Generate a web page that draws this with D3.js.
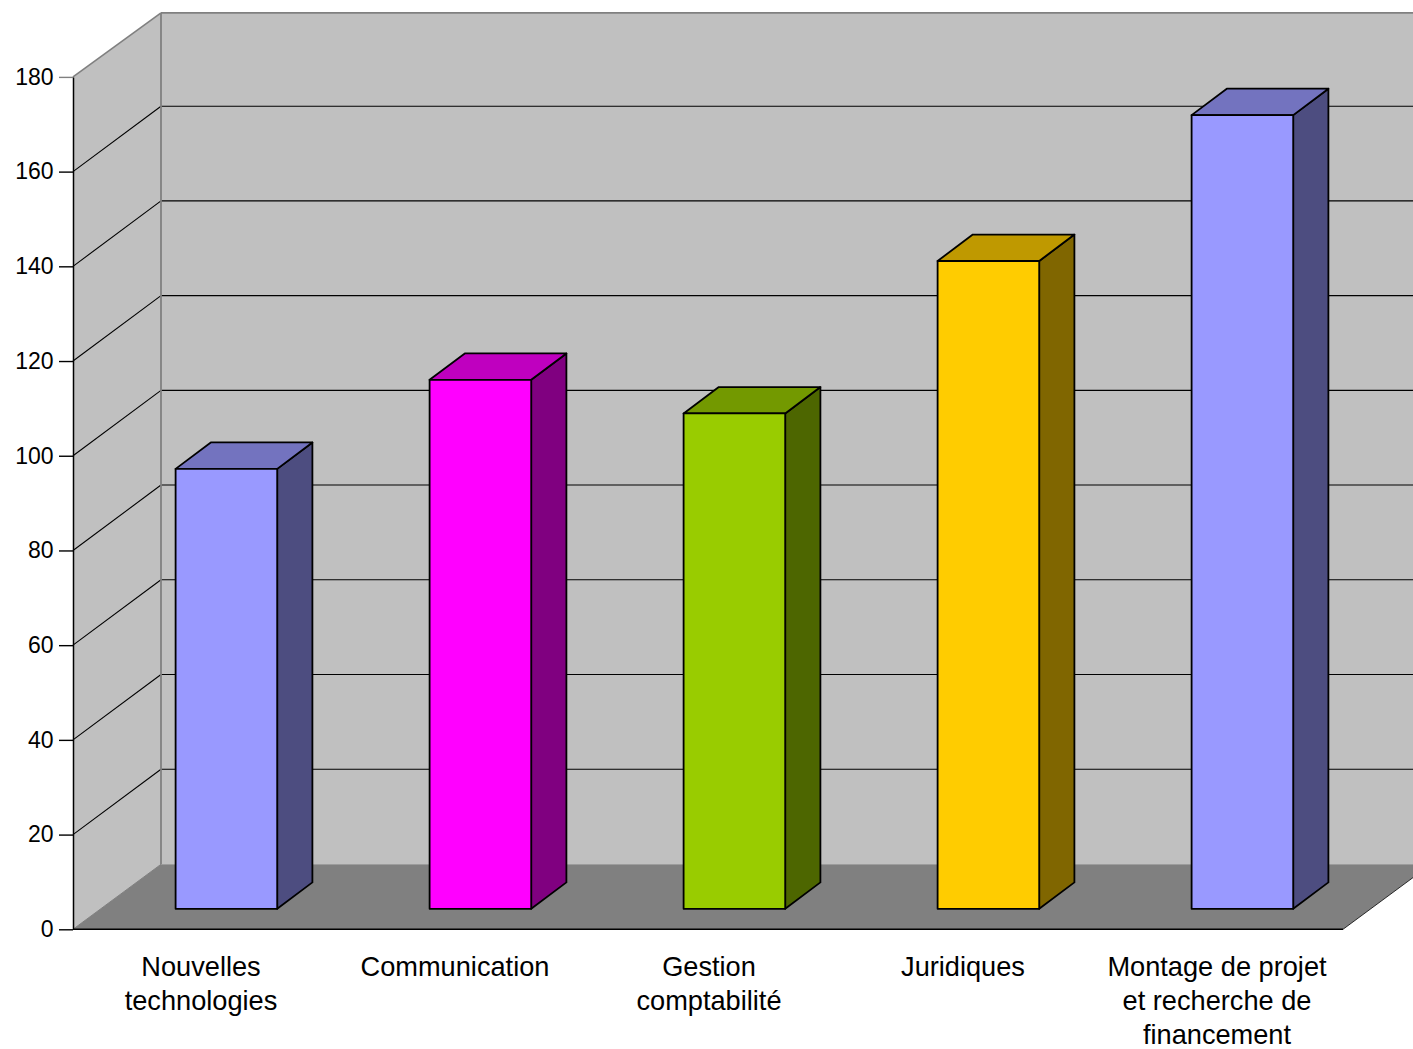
<!DOCTYPE html>
<html>
<head>
<meta charset="utf-8">
<script src="https://cdn.jsdelivr.net/npm/d3@7"></script>
<style>
  html, body { margin: 0; padding: 0; background: #fff; overflow: hidden; }
  text { font-family: "Liberation Sans", Arial, sans-serif; fill: #000; }
</style>
</head>
<body>
<div id="chart"></div>
<script>
const categories = [
  ["Nouvelles", "technologies"],
  ["Communication"],
  ["Gestion", "comptabilité"],
  ["Juridiques"],
  ["Montage de projet", "et recherche de", "financement"]
];
const values = [92.9, 111.7, 104.6, 136.8, 167.6];
const faceColors = ["#9999ff", "#ff00ff", "#99cc00", "#ffcc00", "#9999ff"];
const yTicks = [0, 20, 40, 60, 80, 100, 120, 140, 160, 180];

const width = 1413, height = 1049;
const depthX = 88, depthY = 65;   // full depth of the chart box
const topDepthY = 64;

const svg = d3.select("#chart").append("svg")
  .attr("width", width)
  .attr("height", height)
  .style("display", "block");

const x = d3.scaleBand().domain(d3.range(categories.length)).range([73, 1343]);
const y = d3.scaleLinear().domain([0, 180]).range([929.3, 76.9]);

const poly = (pts) => "M" + pts.map((p) => p.join(",")).join("L") + "Z";

// walls and floor
const x0 = x.range()[0], x1 = x.range()[1];
const yBottom = y(0), yTop = y(180);
svg.append("path")
  .attr("d", poly([[x0 + depthX, yBottom - depthY], [x1 + depthX, yBottom - depthY], [x1 + depthX, yTop - topDepthY], [x0 + depthX, yTop - topDepthY]]))
  .attr("fill", "#c0c0c0");
svg.append("path")
  .attr("d", poly([[x0, yBottom], [x0 + depthX, yBottom - depthY], [x0 + depthX, yTop - topDepthY], [x0, yTop]]))
  .attr("fill", "#c0c0c0");
svg.append("path")
  .attr("d", poly([[x0, yBottom], [x1, yBottom], [x1 + depthX, yBottom - depthY], [x0 + depthX, yBottom - depthY]]))
  .attr("fill", "#808080");

// gridlines
const grid = svg.append("g");
yTicks.filter((t) => t > 0).forEach((t) => {
  const last = t === 180;
  const dy = last ? topDepthY : depthY + 0.4;
  const color = last ? "#808080" : "#000";
  const sw = last ? 1.6 : 1.1;
  grid.append("line")
    .attr("x1", x0).attr("y1", y(t))
    .attr("x2", x0 + depthX).attr("y2", y(t) - dy)
    .attr("stroke", color).attr("stroke-width", sw);
  grid.append("line")
    .attr("x1", x0 + depthX).attr("y1", y(t) - dy)
    .attr("x2", x1 + depthX).attr("y2", y(t) - dy)
    .attr("stroke", color).attr("stroke-width", sw);
});
svg.append("line")
  .attr("x1", x0 + depthX).attr("y1", yTop - topDepthY)
  .attr("x2", x0 + depthX).attr("y2", yBottom - depthY)
  .attr("stroke", "#808080").attr("stroke-width", 1.8);
svg.append("line")
  .attr("x1", x0).attr("y1", yBottom)
  .attr("x2", x0 + depthX).attr("y2", yBottom - depthY)
  .attr("stroke", "#808080").attr("stroke-width", 1);

// axes
const yAxis = svg.append("g")
  .attr("transform", `translate(${x0},0)`)
  .call(d3.axisLeft(y).tickValues(yTicks).tickSize(14).tickPadding(5.5).tickSizeOuter(0));
yAxis.select(".domain").attr("stroke", "#000").attr("stroke-width", 1.5);
yAxis.selectAll(".tick line").attr("stroke", (d) => (d === 180 ? "#808080" : "#000")).attr("stroke-width", 1.4);
yAxis.selectAll(".tick text").attr("font-size", 23);
yAxis.attr("font-family", null);

svg.append("line")
  .attr("x1", x0).attr("y1", yBottom)
  .attr("x2", x1).attr("y2", yBottom)
  .attr("stroke", "#000").attr("stroke-width", 1.5);
svg.append("line")
  .attr("x1", x1).attr("y1", yBottom)
  .attr("x2", x1 + depthX).attr("y2", yBottom - depthY)
  .attr("stroke", "#000").attr("stroke-width", 0.8);

// bars
const dim = (color, k) => {
  const c = d3.rgb(color);
  return d3.rgb(c.r * k, c.g * k, c.b * k).formatHex();
};
const barWidth = x.bandwidth() * 0.4;
const offX = depthX * 0.3, offY = 20.5;
const dx = depthX * 0.4, dy = 26.4;

const bar = svg.append("g")
  .selectAll("g")
  .data(values)
  .join("g")
  .attr("stroke", "#000")
  .attr("stroke-width", 1.8)
  .attr("stroke-linejoin", "round");

bar.each(function (d, i) {
  const g = d3.select(this);
  const left = x(i) + (x.bandwidth() - barWidth) / 2 + offX;
  const right = left + barWidth;
  const base = yBottom - offY;
  const top = y(d) - offY;
  g.append("path")
    .attr("d", poly([[right, base], [right + dx, base - dy], [right + dx, top - dy], [right, top]]))
    .attr("fill", dim(faceColors[i], 0.5));
  g.append("path")
    .attr("d", poly([[left, top], [right, top], [right + dx, top - dy], [left + dx, top - dy]]))
    .attr("fill", dim(faceColors[i], 0.75));
  g.append("path")
    .attr("d", poly([[left, base], [right, base], [right, top], [left, top]]))
    .attr("fill", faceColors[i]);
});

// category labels
svg.append("g")
  .selectAll("text")
  .data(categories)
  .join("text")
  .attr("text-anchor", "middle")
  .attr("font-size", 27.2)
  .each(function (lines, i) {
    d3.select(this).selectAll("tspan")
      .data(lines)
      .join("tspan")
      .attr("x", x(i) + x.bandwidth() / 2 + 1)
      .attr("y", (d, j) => 976 + j * 34)
      .text((d) => d);
  });
</script>
</body>
</html>
